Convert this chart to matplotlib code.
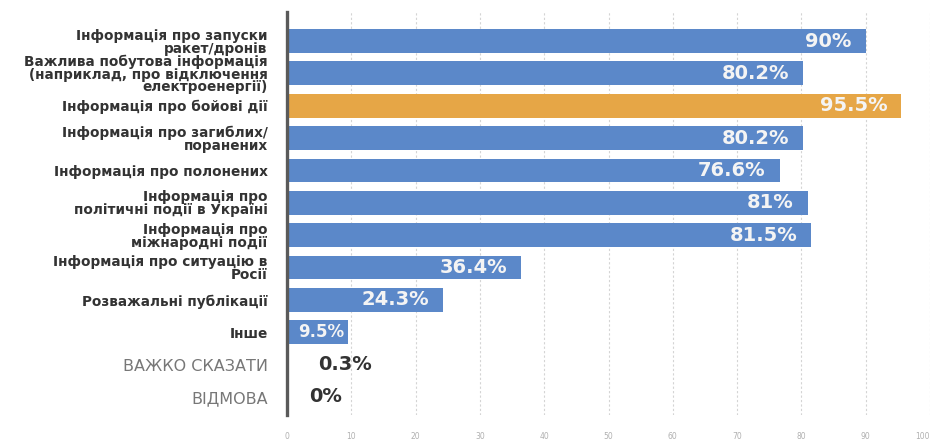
import matplotlib.pyplot as plt
import numpy as np

categories = [
    "Інформація про запуски\nракет/дронів",
    "Важлива побутова інформація\n(наприклад, про відключення\nелектроенергії)",
    "Інформація про бойові дії",
    "Інформація про загиблих/\nпоранених",
    "Інформація про полонених",
    "Інформація про\nполітичні події в Україні",
    "Інформація про\nміжнародні події",
    "Інформація про ситуацію в\nРосії",
    "Розважальні публікації",
    "Інше",
    "ВАЖКО СКАЗАТИ",
    "ВІДМОВА",
]
values = [90, 80.2, 95.5, 80.2, 76.6, 81, 81.5, 36.4, 24.3, 9.5, 0.3, 0]
value_labels = ["90%", "80.2%", "95.5%", "80.2%", "76.6%", "81%", "81.5%",
                "36.4%", "24.3%", "9.5%", "0.3%", "0%"]
ticks = list(range(0, 101, 10))

BLUE = "#5b88c9"
ORANGE = "#e6a646"
DARK = "#555555"

colors = [BLUE] * len(values)
colors[2] = ORANGE
colors[10] = DARK
colors[11] = DARK

fig = plt.figure(figsize=(9.31, 4.43), dpi=100)
ax = fig.add_axes([287 / 931, 1 - 415 / 443, (930 - 287) / 931, (415 - 12) / 443])

y = np.arange(len(values))
ax.barh(y, values, height=0.74, color=colors, zorder=2)

ax.set_xlim(0, 100)
ax.set_ylim(11.56, -0.9)

for t in ticks[1:]:
    ax.axvline(t, color="#d4d4d4", lw=0.8, ls=(0, (2, 2)), zorder=1)

for s in ["top", "right", "bottom"]:
    ax.spines[s].set_visible(False)
ax.spines["left"].set_color("#5a5a5a")
ax.spines["left"].set_linewidth(2.4)
ax.spines["left"].set_zorder(3)

ax.set_yticks(y)
ax.set_yticklabels(categories, linespacing=0.9)
ax.tick_params(axis="y", length=0, pad=14)
for i, lab in enumerate(ax.get_yticklabels()):
    if i >= 10:
        lab.set_fontsize(11.5)
        lab.set_color("#777777")
        lab.set_fontweight("normal")
    else:
        lab.set_fontsize(9.8)
        lab.set_color("#333333")
        lab.set_fontweight("bold")

ax.set_xticks(ticks)
ax.set_xticklabels([str(t) for t in ticks], fontsize=5.5, color="#b0b0b0")
ax.get_xticklabels()[-1].set_ha("right")
ax.tick_params(axis="x", length=0, pad=12)

for i, (v, txt) in enumerate(zip(values, value_labels)):
    if v >= 20:
        ax.annotate(txt, (v, i), xytext=(-10, 0), textcoords="offset points",
                    ha="right", va="center", fontsize=14, fontweight="bold",
                    color="#f4f4f4", zorder=4)
    elif v >= 5:
        ax.annotate(txt, (v, i), xytext=(-3, 0), textcoords="offset points",
                    ha="right", va="center", fontsize=12, fontweight="bold",
                    color="#f4f4f4", zorder=4)
    else:
        off = 21 if v > 0 else 16
        ax.annotate(txt, (v, i), xytext=(off, 0), textcoords="offset points",
                    ha="left", va="center", fontsize=14, fontweight="bold",
                    color="#333333", zorder=4)

fig.savefig("out.png", dpi=100)
